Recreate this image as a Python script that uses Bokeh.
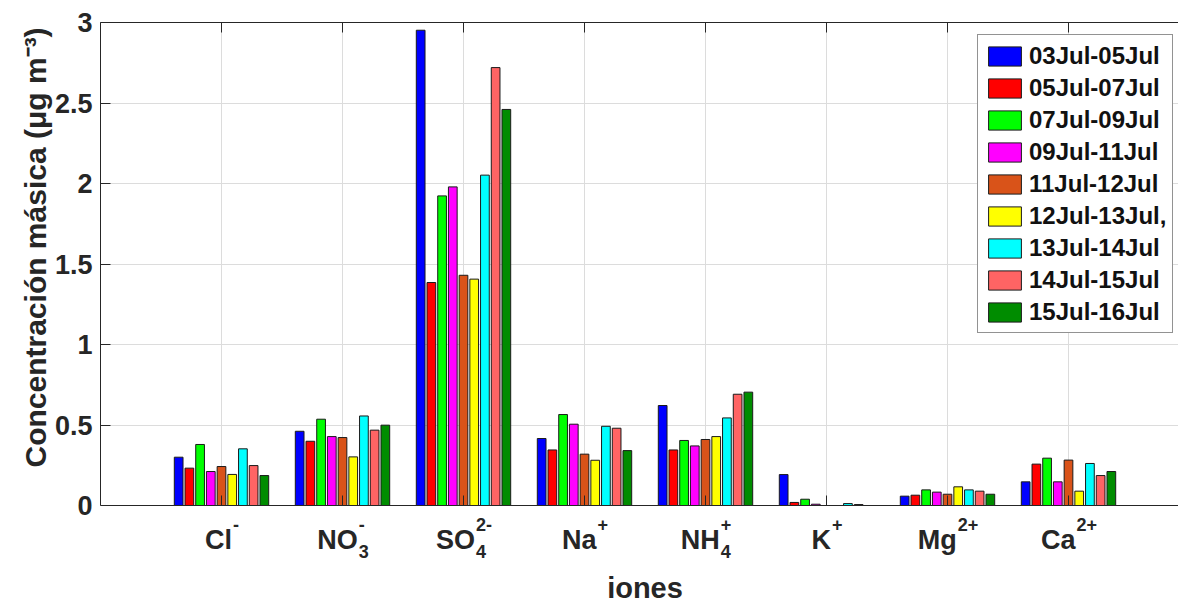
from bokeh.plotting import figure
from bokeh.models import (Range1d, FixedTicker, CustomJSTickFormatter, ColumnDataSource,
                          Span, Title, BoxAnnotation)
from bokeh.core.properties import value
from bokeh.embed import file_html
from bokeh.resources import INLINE

# ---------------- data ----------------
ion_main = ["Cl", "NO", "SO", "Na", "NH", "K", "Mg", "Ca"]
ion_sup = ["-", "-", "2-", "+", "+", "+", "2+", "2+"]
ion_sub = ["", "3", "4", "", "4", "", "", ""]

periods = ["03Jul-05Jul", "05Jul-07Jul", "07Jul-09Jul", "09Jul-11Jul", "11Jul-12Jul",
           "12Jul-13Jul,", "13Jul-14Jul", "14Jul-15Jul", "15Jul-16Jul"]

p03_05 = [0.300, 0.461, 2.952, 0.416, 0.621, 0.192, 0.058, 0.147]
p05_07 = [0.232, 0.399, 1.385, 0.345, 0.345, 0.019, 0.064, 0.257]
p07_09 = [0.379, 0.536, 1.923, 0.565, 0.404, 0.039, 0.097, 0.294]
p09_11 = [0.211, 0.428, 1.979, 0.505, 0.370, 0.008, 0.083, 0.147]
p11_12 = [0.242, 0.422, 1.430, 0.319, 0.410, 0.000, 0.070, 0.282]
p12_13 = [0.193, 0.302, 1.406, 0.281, 0.428, 0.000, 0.116, 0.089]
p13_14 = [0.352, 0.556, 2.052, 0.492, 0.544, 0.012, 0.097, 0.261]
p14_15 = [0.248, 0.468, 2.720, 0.480, 0.691, 0.006, 0.089, 0.186]
p15_16 = [0.186, 0.499, 2.460, 0.341, 0.704, 0.000, 0.070, 0.211]

series = [p03_05, p05_07, p07_09, p09_11, p11_12, p12_13, p13_14, p14_15, p15_16]
colors = ["#0000FF", "#FF0000", "#00FF00", "#FF00FF", "#D95319",
          "#FFFF00", "#00FFFF", "#FF6464", "#008C00"]

y_ticks = [0, 0.5, 1, 1.5, 2, 2.5, 3]
x_title = "iones"
y_title = "Concentración másica (μg m⁻³)"

# ---------------- layout constants ----------------
FONT = "Liberation Sans"
AX = "#262626"
W, H = 1178, 601
BLEFT, BTOP = 100, 22
Y_TOP = 3.0
PX_PER_Y = 161.0                       # pixels per concentration unit
PX_PER_X = 121.0                       # pixels per category
y_min = Y_TOP - (H - BTOP) / PX_PER_Y  # frame extends below 0 to host the labels
x_max = (W - BLEFT) / PX_PER_X
TEXT_SHIFT = 11                        # measured baseline correction for text glyphs


def below(px):
    """data y for a text baseline `px` pixels below the zero line"""
    return -(px - TEXT_SHIFT) / PX_PER_Y


cats = list(range(1, len(ion_main) + 1))

p = figure(width=W, height=H, output_backend="svg", toolbar_location=None,
           x_range=Range1d(0, x_max), y_range=Range1d(y_min, Y_TOP),
           x_axis_location="above",
           min_border_left=BLEFT, min_border_right=0, min_border_top=BTOP,
           min_border_bottom=0, outline_line_color=None,
           background_fill_color="white", border_fill_color="white")

slot = 0.0885
bw = 0.072
n = len(series)
for k, (vals, col, lab) in enumerate(zip(series, colors, periods)):
    off = (k - (n - 1) / 2) * slot
    xs = [c + off for c in cats]
    p.vbar(x=xs, top=vals, width=bw, fill_color=col, line_color="#1a1a1a",
           line_width=1, legend_label=lab)

# top axis = box line with inward ticks, no labels
p.xaxis.ticker = FixedTicker(ticks=cats)
p.xaxis.formatter = CustomJSTickFormatter(code="return '';")
p.xaxis.major_label_standoff = 0
p.xaxis.major_tick_in = 10
p.xaxis.major_tick_out = 0
p.xaxis.minor_tick_line_color = None
p.xaxis.axis_line_color = AX
p.xaxis.major_tick_line_color = AX

# grids
p.xgrid.ticker = FixedTicker(ticks=cats)
p.ygrid.ticker = FixedTicker(ticks=y_ticks)
for g in (p.xgrid, p.ygrid):
    g.grid_line_color = "#DCDCDC"
    g.grid_line_width = 1

# white cover for the label area below zero (hides grid lines there)
p.add_layout(BoxAnnotation(top=0, fill_color="white", fill_alpha=1.0, line_color=None,
                           level="underlay"))

# x axis line at zero + inward category ticks
p.add_layout(Span(location=0, dimension="width", line_color=AX, line_width=1))
p.segment(x0=cats, y0=[0] * len(cats), x1=cats, y1=[10 / PX_PER_Y] * len(cats),
          line_color=AX, line_width=1)

# y axis
p.yaxis.bounds = (0, Y_TOP)
p.yaxis.ticker = FixedTicker(ticks=y_ticks)
p.yaxis.formatter = CustomJSTickFormatter(code="return String(tick);")
p.yaxis.major_label_text_font = FONT
p.yaxis.major_label_text_font_style = "bold"
p.yaxis.major_label_text_font_size = "27px"
p.yaxis.major_label_text_color = AX
p.yaxis.major_label_standoff = 8
p.yaxis.major_tick_in = 10
p.yaxis.major_tick_out = 0
p.yaxis.minor_tick_line_color = None
p.yaxis.axis_line_color = AX
p.yaxis.major_tick_line_color = AX

# y title as a left-side title, starting where the reference label starts
ytitle = Title(text=y_title, align="left", offset=H - 467,
               text_font=FONT, text_font_style="bold", text_font_size="30px",
               text_color=AX, standoff=0)
p.add_layout(ytitle, "left")

# legend (location = bottom-left corner, px from frame bottom-left)
lg = p.legend[0]
lg.location = (877, H - 333)
lg.margin = 0
lg.padding = 6
lg.spacing = 3
lg.glyph_width = 41
lg.glyph_height = 24
lg.label_height = 29
lg.label_standoff = 4
lg.label_text_font = FONT
lg.label_text_font_style = "bold"
lg.label_text_font_size = "24px"
lg.label_text_color = "#111111"
lg.border_line_color = AX
lg.border_line_width = 1
lg.background_fill_color = "white"
lg.background_fill_alpha = 1.0

# ---------------- category labels with super/subscripts ----------------
CW = {"C": .722, "l": .278, "N": .722, "O": .778, "S": .667, "a": .556, "H": .722,
      "K": .722, "M": .833, "g": .611, "-": .333, "+": .584, "2": .556, "3": .556,
      "4": .556}


def tw(s, size):
    return sum(CW.get(ch, .6) for ch in s) * size


MAIN_FS, SCR_FS = 27, 18
mx, mo, mt = [], [], []
sx, so, st = [], [], []
bx, bo, bt = [], [], []
for c, m, sp, sb in zip(cats, ion_main, ion_sup, ion_sub):
    mw = tw(m, MAIN_FS)
    sw = max(tw(sp, SCR_FS), tw(sb, SCR_FS))
    xr = (mw - sw) / 2
    mx.append(c); mo.append(xr); mt.append(m)
    sx.append(c); so.append(xr + 1); st.append(sp)
    if sb:
        bx.append(c); bo.append(xr + 1); bt.append(sb)

common = dict(text_font=value(FONT), text_font_style="bold", text_color=AX,
              text_baseline="alphabetic")
p.text(source=ColumnDataSource(dict(x=mx, y=[below(45)] * len(mx), t=mt, o=mo)),
       x="x", y="y", text="t", x_offset="o", text_align="right",
       text_font_size=value(f"{MAIN_FS}px"), **common)
p.text(source=ColumnDataSource(dict(x=sx, y=[below(30)] * len(sx), t=st, o=so)),
       x="x", y="y", text="t", x_offset="o", text_align="left",
       text_font_size=value(f"{SCR_FS}px"), **common)
p.text(source=ColumnDataSource(dict(x=bx, y=[below(57)] * len(bx), t=bt, o=bo)),
       x="x", y="y", text="t", x_offset="o", text_align="left",
       text_font_size=value(f"{SCR_FS}px"), **common)
# x-axis title, centred on the full (uncropped) axes span
p.text(x=[(len(cats) + 1) / 2], y=[below(93)], text=[x_title], text_align="center",
       text_font_size=value("29px"), **common)

open("out.html", "w").write(file_html(p, INLINE))
